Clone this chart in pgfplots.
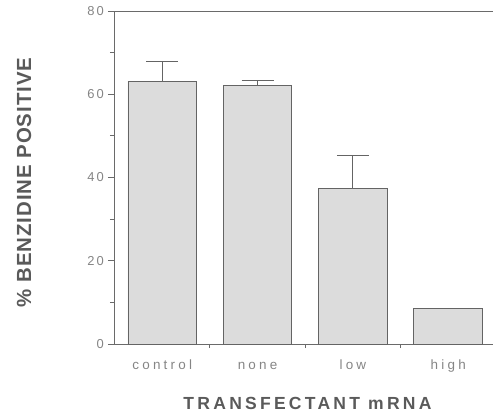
\documentclass[border=0pt]{standalone}
\usepackage{fontspec}
\setmainfont{Liberation Sans}
\newfontfamily\spacedx[LetterSpace=24]{Liberation Sans}
\newfontfamily\spacedy[LetterSpace=15]{Liberation Sans}
\newfontfamily\spacedxl[LetterSpace=18.5]{Liberation Sans}
\newfontfamily\spacedyl[LetterSpace=4.5]{Liberation Sans}
\usepackage{pgfplots}
\pgfplotsset{compat=1.18}
\definecolor{barfill}{HTML}{DCDCDC}
\definecolor{bardraw}{HTML}{646464}
\definecolor{axisgray}{HTML}{6A6A6A}
\definecolor{labgray}{HTML}{5A5A5A}
\definecolor{tickgray}{HTML}{858585}
\begin{document}
\begin{tikzpicture}
\useasboundingbox (-114bp,-70bp) rectangle (379bp,344bp);
\begin{axis}[
  at={(0,0)}, anchor=south west,
  scale only axis, width=379bp, height=333bp,
  xmin=-0.506, xmax=3.47, ymin=0, ymax=80,
  axis x line*=bottom, axis y line*=left,
  axis line style={-, draw=axisgray, line width=0.9bp},
  ytick={0,20,40,60,80}, minor ytick={10,30,50,70},
  xtick={0,1,2,3}, xticklabels={control,none,low,high},
  minor xtick={0.5,1.5,2.5},
  tick align=outside,
  major tick length=6bp, minor tick length=4bp,
  major x tick style={draw=none},
  every tick/.style={draw=axisgray, line width=0.9bp},
  /pgf/number format/assume math mode=true,
  yticklabel style={font=\spacedy\fontsize{13}{14}\selectfont, text=tickgray, inner sep=0pt, xshift=-4bp},
  xticklabel style={font=\spacedx\fontsize{13.5}{14}\selectfont, text=tickgray, anchor=north, inner sep=0pt,
     text height=10bp, text depth=3bp, yshift=-9bp},
  every axis y label/.style={at={([xshift=-90bp,yshift=-5bp]axis description cs:0,0.5)}, rotate=90, anchor=center,
     font=\spacedyl\bfseries\fontsize{20.5}{21}\selectfont, text=labgray},
  every axis x label/.style={at={([yshift=-59bp,xshift=4bp]axis description cs:0.5,0)}, anchor=center,
     font=\spacedxl\bfseries\fontsize{17.6}{18}\selectfont, text=labgray},
  ylabel={\% BENZIDINE POSITIVE},
  xlabel={TRANSFECTANT mRNA},
  clip=false,
]
\addplot[ybar, bar width=0.719, fill=barfill, draw=bardraw, line width=0.9bp,
  error bars/.cd, y dir=plus, y explicit,
  error bar style={draw=bardraw, line width=0.9bp},
  error mark options={rotate=90, mark size=16bp, draw=bardraw, line width=0.9bp}]
  coordinates {
  (0,63.1) +- (0,4.7)
  (1,62.2) +- (0,1.0)
  (2,37.4) +- (0,8.0)
  (3,8.5) +- (0,0)
  };
\draw[axisgray, line width=0.9bp] (axis description cs:0,1) -- (axis description cs:1,1);
\end{axis}
\end{tikzpicture}
\end{document}
